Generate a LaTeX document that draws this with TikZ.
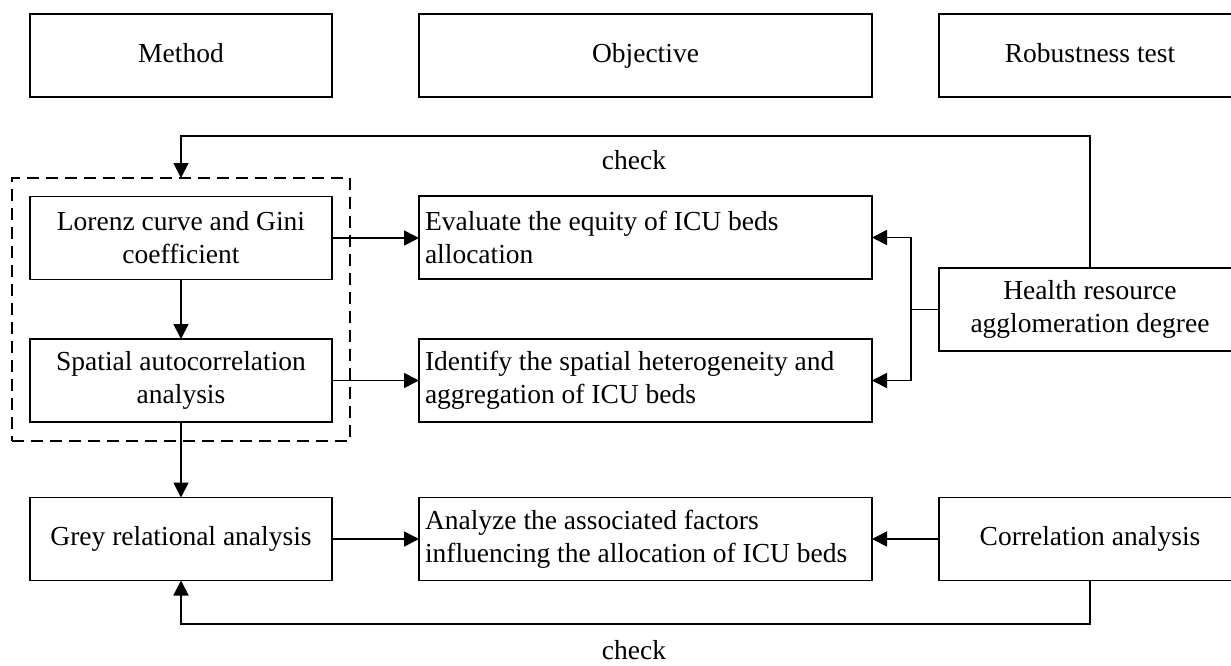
\documentclass[tikz,border=0pt]{standalone}
\usepackage{fontspec}
\setmainfont{Liberation Serif}
\usetikzlibrary{arrows.meta}
\tikzset{
  x=1pt, y=-1pt,
  box/.style={draw, line width=1.8pt, minimum height=83pt, inner sep=0pt, outer sep=0pt,
    font=\fontsize{27.5}{33}\selectfont, align=center},
  narrowbox/.style={box, minimum width=302pt},
  onebox/.style={narrowbox, text height=19pt, text depth=6pt},
  widebox/.style={box, text width=441pt, align=flush left, inner xsep=6pt, minimum width=453pt},
  dashbox/.style={draw, line width=1.8pt, dash pattern=on 12pt off 7pt, minimum width=338pt,
    minimum height=263pt, inner sep=0pt, outer sep=0pt},
  conn/.style={line width=1.8pt},
  arr/.style={conn, -{Triangle[length=15pt,width=15pt]}},
  lbl/.style={font=\fontsize{27.5}{33}\selectfont, inner sep=0pt, anchor=base},
}
\begin{document}
\begin{tikzpicture}
\useasboundingbox (0,0) rectangle (1231,665);
\clip (0,0) rectangle (1231,665);
% header row
\node[onebox] (method) at (181,55.5) {Method};
\node[box, minimum width=453pt, text height=19pt, text depth=6pt] (objective) at (645.5,55.5) {Objective};
\node[onebox] (robust) at (1090,55.5) {Robustness test};
% dashed group
\node[dashbox] (dash) at (181,309.5) {};
% method column
\node[narrowbox] (lorenz) at (181,238) {Lorenz curve and Gini\\coefficient};
\node[narrowbox] (spatial) at (181,380.5) {Spatial autocorrelation\\analysis};
\node[onebox] (grey) at (181,539) {Grey relational analysis};
% objective column
\node[widebox] (evaluate) at (645.5,237.5) {Evaluate the equity of ICU beds\\allocation};
\node[widebox] (identify) at (645.5,380.5) {Identify the spatial heterogeneity and\\aggregation of ICU beds};
\node[widebox] (analyze) at (645.5,539) {Analyze the associated factors\\influencing the allocation of ICU beds};
% robustness column
\node[narrowbox] (health) at (1090,309.5) {Health resource\\agglomeration degree};
\node[onebox] (corr) at (1090,539) {Correlation analysis};
% labels
\node[lbl] (check1) at (634,169) {check};
\node[lbl] (check2) at (634,659) {check};
% connectors
\draw[arr] (lorenz.south) -- (spatial.north);
\draw[arr] (spatial.south) -- (grey.north);
\draw[arr] (lorenz.east) -- (lorenz.east -| evaluate.west);
\draw[arr] (spatial.east) -- (spatial.east -| identify.west);
\draw[arr] (grey.east) -- (analyze.west);
\draw[arr] (corr.west) -- (analyze.east);
\coordinate (fork) at (911,309.5);
\draw[conn] (health.west) -- (fork);
\draw[arr] (fork) |- (evaluate.east);
\draw[arr] (fork) |- (identify.east);
\coordinate (topc) at (181,136);
\draw[arr] (health.north) |- (topc) -- (dash.north);
\coordinate (botc) at (181,624);
\draw[arr] (corr.south) |- (botc) -- (grey.south);
\end{tikzpicture}
\end{document}
